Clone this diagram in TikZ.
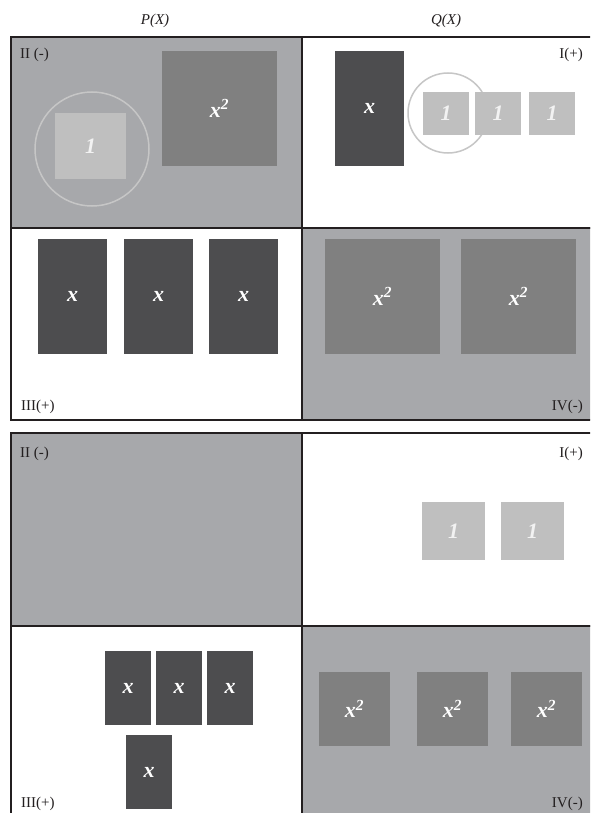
\documentclass[tikz,border=0pt]{standalone}
\usepackage{fontspec}
\setmainfont{Liberation Serif}
\usepackage{xcolor}
\definecolor{qgray}{HTML}{A7A8AB}
\definecolor{tdark}{HTML}{4D4D4F}
\definecolor{tmid}{HTML}{808080}
\definecolor{tlight}{HTML}{BFBFBF}
\definecolor{cring}{HTML}{C6C6C6}
\definecolor{bline}{HTML}{231F20}
\begin{document}
\begin{tikzpicture}[x=1pt,y=-1pt,
  quad/.style={draw=bline,line width=2pt},
  qlabel/.style={inner sep=0pt,font=\fontsize{15}{17}\selectfont,text=bline},
  head/.style={inner sep=0pt,font=\fontsize{15}{17}\selectfont\itshape,text=bline},
  tile/.style={inner sep=0pt,draw=none,text=white,font=\fontsize{22}{24}\selectfont\bfseries\itshape},
  xtile/.style={tile,fill=tdark},
  sqtile/.style={tile,fill=tmid},
  onetile/.style={tile,fill=tlight,text=white!95!black},
  ring/.style={draw=cring,line width=1.5pt}]
\clip (0,0) rectangle (590,813);
\fill[white] (0,0) rectangle (590,813);
% headers
\node[head] (hp) at (155,21) {P(X)};
\node[head] (hq) at (446,21) {Q(X)};
% ---------- upper grid ----------
\draw[quad,fill=qgray] (11,37) rectangle (302,228);
\draw[quad,fill=white] (302,37) rectangle (596,228);
\draw[quad,fill=white] (11,228) rectangle (302,420);
\draw[quad,fill=qgray] (302,228) rectangle (596,420);
\node[qlabel,anchor=base west] (u2) at (20,59) {II (-)};
\node[qlabel,anchor=base east] (u1) at (583,59) {I(+)};
\node[qlabel,anchor=base west] (u3) at (21,410) {III(+)};
\node[qlabel,anchor=base east] (u4) at (583,410) {IV(-)};
% quadrant II
\draw[ring] (92,149) circle (57);
\node[onetile,fill=tlight,minimum width=71,minimum height=66] (a1) at (90.5,146) {1};
\node[sqtile,minimum width=115,minimum height=115] (a2) at (219.5,108.5) {x\textsuperscript{2}};
% quadrant I
\draw[ring] (448,113) circle (40);
\node[xtile,minimum width=69,minimum height=115] (b1) at (369.5,108.5) {x};
\node[onetile,minimum width=46,minimum height=43] (b2) at (446,113.5) {1};
\node[onetile,minimum width=46,minimum height=43] (b3) at (498,113.5) {1};
\node[onetile,minimum width=46,minimum height=43] (b4) at (552,113.5) {1};
% quadrant III
\node[xtile,minimum width=69,minimum height=115] (c1) at (72.5,296.5) {x};
\node[xtile,minimum width=69,minimum height=115] (c2) at (158.5,296.5) {x};
\node[xtile,minimum width=69,minimum height=115] (c3) at (243.5,296.5) {x};
% quadrant IV
\node[sqtile,minimum width=115,minimum height=115] (d1) at (382.5,296.5) {x\textsuperscript{2}};
\node[sqtile,minimum width=115,minimum height=115] (d2) at (518.5,296.5) {x\textsuperscript{2}};
% ---------- lower grid ----------
\draw[quad,fill=qgray] (11,433) rectangle (302,626);
\draw[quad,fill=white] (302,433) rectangle (596,626);
\draw[quad,fill=white] (11,626) rectangle (302,820);
\draw[quad,fill=qgray] (302,626) rectangle (596,820);
\node[qlabel,anchor=base west] (l2) at (20,457) {II (-)};
\node[qlabel,anchor=base east] (l1) at (583,457) {I(+)};
\node[qlabel,anchor=base west] (l3) at (21,807) {III(+)};
\node[qlabel,anchor=base east] (l4) at (583,807) {IV(-)};
% lower I
\node[onetile,minimum width=63,minimum height=58] (e1) at (453.5,531) {1};
\node[onetile,minimum width=63,minimum height=58] (e2) at (532.5,531) {1};
% lower III
\node[xtile,minimum width=46,minimum height=74] (f1) at (128,688) {x};
\node[xtile,minimum width=46,minimum height=74] (f2) at (179,688) {x};
\node[xtile,minimum width=46,minimum height=74] (f3) at (230,688) {x};
\node[xtile,minimum width=46,minimum height=74] (f4) at (149,772) {x};
% lower IV
\node[sqtile,minimum width=71,minimum height=74] (g1) at (354.5,709) {x\textsuperscript{2}};
\node[sqtile,minimum width=71,minimum height=74] (g2) at (452.5,709) {x\textsuperscript{2}};
\node[sqtile,minimum width=71,minimum height=74] (g3) at (546.5,709) {x\textsuperscript{2}};
\end{tikzpicture}
\end{document}
